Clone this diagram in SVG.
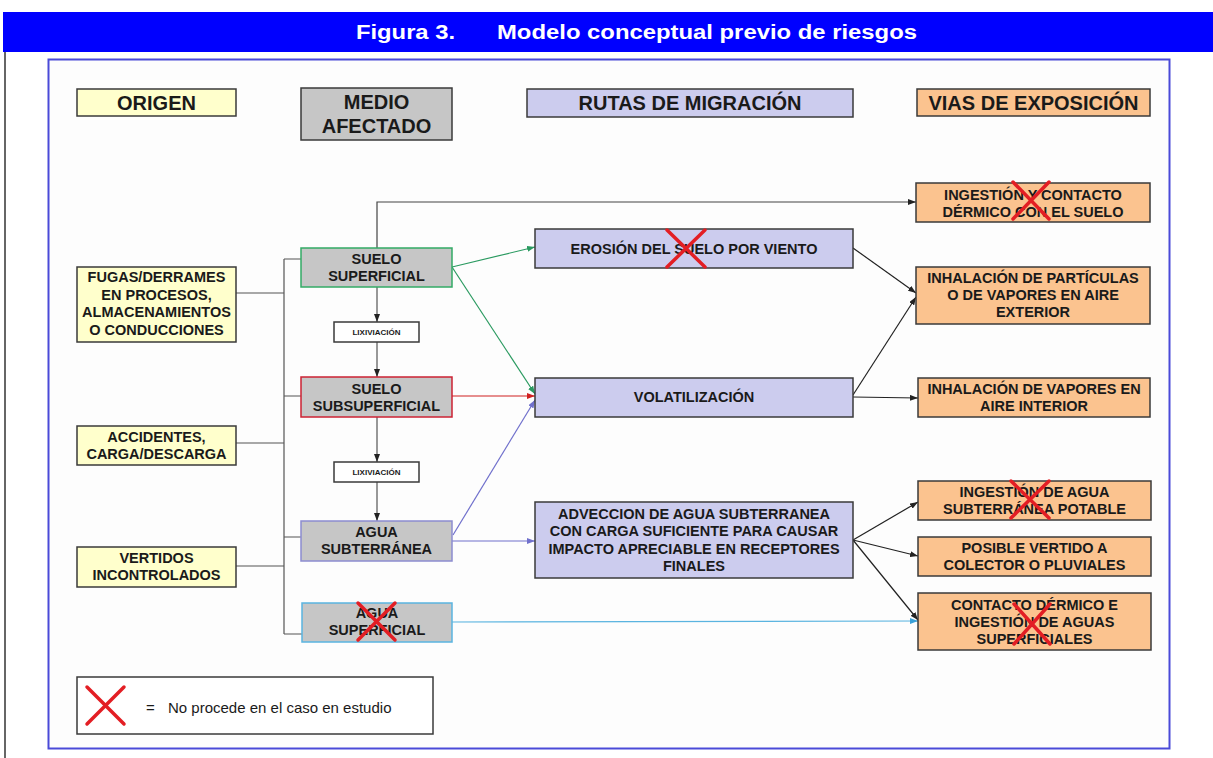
<svg xmlns="http://www.w3.org/2000/svg" width="1213" height="758" viewBox="0 0 1213 758">
<defs>
<style>
.t{font-family:"Liberation Sans",Arial,sans-serif;font-weight:bold;font-size:14.5px;fill:#1a1a1a;text-anchor:middle}
.h{font-family:"Liberation Sans",Arial,sans-serif;font-weight:bold;font-size:20px;fill:#1a1a1a;text-anchor:middle}
.lx{font-family:"Liberation Sans",Arial,sans-serif;font-weight:bold;font-size:8px;fill:#1a1a1a;text-anchor:middle}
.yel{fill:#ffffcc;stroke:#3a3a3a;stroke-width:1.5}
.gry{fill:#c6c6c6;stroke:#3a3a3a;stroke-width:1.5}
.lav{fill:#ccccee;stroke:#3a3a3a;stroke-width:1.5}
.pch{fill:#fbc38f;stroke:#3a3a3a;stroke-width:1.5}
.wht{fill:#ffffff;stroke:#3a3a3a;stroke-width:1.5}
.x{stroke:#e31e24;stroke-width:3.5;fill:none;stroke-linecap:round}
.c{fill:none;stroke-width:1.2}
</style>
<marker id="ak" markerUnits="userSpaceOnUse" markerWidth="8" markerHeight="6" refX="8" refY="3" orient="auto"><path d="M0,0 L8,3 L0,6 z" fill="#222"/></marker>
<marker id="ag" markerUnits="userSpaceOnUse" markerWidth="8" markerHeight="6" refX="8" refY="3" orient="auto"><path d="M0,0 L8,3 L0,6 z" fill="#2a9a60"/></marker>
<marker id="ar" markerUnits="userSpaceOnUse" markerWidth="8" markerHeight="6" refX="8" refY="3" orient="auto"><path d="M0,0 L8,3 L0,6 z" fill="#d02020"/></marker>
<marker id="ap" markerUnits="userSpaceOnUse" markerWidth="8" markerHeight="6" refX="8" refY="3" orient="auto"><path d="M0,0 L8,3 L0,6 z" fill="#7070cc"/></marker>
<marker id="ab" markerUnits="userSpaceOnUse" markerWidth="8" markerHeight="6" refX="8" refY="3" orient="auto"><path d="M0,0 L8,3 L0,6 z" fill="#3aa0d8"/></marker>
</defs>
<rect width="1213" height="758" fill="#ffffff"/>
<rect x="3" y="12" width="1210" height="40" fill="#0000ff"/>
<text x="356" y="39" textLength="99" lengthAdjust="spacingAndGlyphs" style="font-family:'Liberation Sans',Arial,sans-serif;font-weight:bold;font-size:20px;fill:#ffffff">Figura 3.</text>
<text x="497" y="39" textLength="420" lengthAdjust="spacingAndGlyphs" style="font-family:'Liberation Sans',Arial,sans-serif;font-weight:bold;font-size:20px;fill:#ffffff">Modelo conceptual previo de riesgos</text>
<line x1="5" y1="52" x2="5" y2="758" stroke="#333" stroke-width="1.5"/>
<rect x="48.5" y="59.5" width="1121" height="689" fill="#fdfdfd" stroke="#4a4ad8" stroke-width="2"/>

<g id="connectors">
<path class="c" stroke="#555" d="M284,259 V634 M284,259 H301 M284,396 H301 M284,537 H301 M284,634 H302 M236,293 H284 M236,443 H284 M236,566 H284"/>
<path class="c" stroke="#444" d="M377,248 V202 H916" marker-end="url(#ak)"/>
<path class="c" stroke="#555" d="M377,287 V322" marker-end="url(#ak)"/>
<path class="c" stroke="#555" d="M377,342 V377" marker-end="url(#ak)"/>
<path class="c" stroke="#555" d="M377,417 V462" marker-end="url(#ak)"/>
<path class="c" stroke="#555" d="M377,482 V521" marker-end="url(#ak)"/>
<path class="c" stroke="#2a9a60" d="M452,267 L535,247" marker-end="url(#ag)"/>
<path class="c" stroke="#2a9a60" d="M452,267 L535,394" marker-end="url(#ag)"/>
<path class="c" stroke="#d02020" d="M452,396 L535,396" marker-end="url(#ar)"/>
<path class="c" stroke="#7070cc" d="M453,535 L535,400" marker-end="url(#ap)"/>
<path class="c" stroke="#7070cc" d="M452,541 L535,541" marker-end="url(#ap)"/>
<path class="c" stroke="#5ab4e0" stroke-width="1.6" d="M452,622 L918,621" marker-end="url(#ab)"/>
<path class="c" stroke="#222" d="M853,248 L916,293" marker-end="url(#ak)"/>
<path class="c" stroke="#222" d="M853,395 L916,297" marker-end="url(#ak)"/>
<path class="c" stroke="#222" d="M853,397 L918,398" marker-end="url(#ak)"/>
<path class="c" stroke="#222" d="M853,540 L918,502" marker-end="url(#ak)"/>
<path class="c" stroke="#222" d="M853,540 L918,556" marker-end="url(#ak)"/>
<path class="c" stroke="#222" d="M853,540 L918,620" marker-end="url(#ak)"/>
</g>

<g id="h-origen"><rect class="yel" x="77" y="89" width="159" height="27"/><text class="h" x="156.5" y="109.5">ORIGEN</text></g>
<g id="h-medio"><rect class="gry" x="301" y="88" width="151" height="52"/><text class="h" x="376.5" y="109">MEDIO</text><text class="h" x="376.5" y="133">AFECTADO</text></g>
<g id="h-rutas"><rect class="lav" x="527" y="89" width="326" height="28"/><text class="h" x="690" y="110">RUTAS DE MIGRACIÓN</text></g>
<g id="h-vias"><rect class="pch" x="917" y="89" width="233" height="27"/><text class="h" x="1033.5" y="109.5">VIAS DE EXPOSICIÓN</text></g>

<g id="o-fugas"><rect class="yel" x="77" y="267" width="159" height="75"/><text class="t" x="156.5" y="282">FUGAS/DERRAMES</text><text class="t" x="156.5" y="299.5">EN PROCESOS,</text><text class="t" x="156.5" y="317">ALMACENAMIENTOS</text><text class="t" x="156.5" y="334.5">O CONDUCCIONES</text></g>
<g id="o-accidentes"><rect class="yel" x="77" y="426" width="159" height="39"/><text class="t" x="156.5" y="441.5">ACCIDENTES,</text><text class="t" x="156.5" y="459">CARGA/DESCARGA</text></g>
<g id="o-vertidos"><rect class="yel" x="77" y="547" width="159" height="40"/><text class="t" x="156.5" y="562.5">VERTIDOS</text><text class="t" x="156.5" y="580">INCONTROLADOS</text></g>

<g id="m-suelo-sup"><rect class="gry" x="301" y="248" width="151" height="39" style="stroke:#33aa66"/><text class="t" x="376.5" y="264">SUELO</text><text class="t" x="376.5" y="281">SUPERFICIAL</text></g>
<g id="lix1"><rect class="wht" x="334" y="322" width="85" height="20"/><text class="lx" x="376.5" y="335">LIXIVIACIÓN</text></g>
<g id="m-suelo-subsup"><rect class="gry" x="301" y="377" width="151" height="40" style="stroke:#cc2233"/><text class="t" x="376.5" y="393.5">SUELO</text><text class="t" x="376.5" y="411">SUBSUPERFICIAL</text></g>
<g id="lix2"><rect class="wht" x="334" y="462" width="85" height="20"/><text class="lx" x="376.5" y="475">LIXIVIACIÓN</text></g>
<g id="m-agua-subt"><rect class="gry" x="301" y="521" width="151" height="40" style="stroke:#8c8cd0"/><text class="t" x="376.5" y="536.5">AGUA</text><text class="t" x="376.5" y="554">SUBTERRÁNEA</text></g>
<g id="m-agua-sup"><rect class="gry" x="302" y="603" width="150" height="39" style="stroke:#5ab4e0"/><text class="t" x="377" y="618">AGUA</text><text class="t" x="377" y="635">SUPERFICIAL</text><path class="x" d="M358,603 L395,640 M395,603 L358,640"/></g>

<g id="r-erosion"><rect class="lav" x="535" y="229" width="318" height="39"/><text class="t" x="694" y="253.5">EROSIÓN DEL SUELO POR VIENTO</text><path class="x" d="M667,230 L705,267 M705,230 L667,267"/></g>
<g id="r-volat"><rect class="lav" x="535" y="378" width="318" height="39"/><text class="t" x="694" y="402">VOLATILIZACIÓN</text></g>
<g id="r-advec"><rect class="lav" x="535" y="502" width="318" height="76"/><text class="t" x="694" y="518.5">ADVECCION DE AGUA SUBTERRANEA</text><text class="t" x="694" y="536">CON CARGA SUFICIENTE PARA CAUSAR</text><text class="t" x="694" y="553.5">IMPACTO APRECIABLE EN RECEPTORES</text><text class="t" x="694" y="571">FINALES</text></g>

<g id="e-ingestion-suelo"><rect class="pch" x="916" y="183" width="234" height="39"/><text class="t" x="1033" y="199.5">INGESTIÓN Y CONTACTO</text><text class="t" x="1033" y="217">DÉRMICO CON EL SUELO</text><path class="x" d="M1013,182 L1049,219 M1049,182 L1013,219"/></g>
<g id="e-inhal-part"><rect class="pch" x="916" y="267" width="234" height="57"/><text class="t" x="1033" y="283">INHALACIÓN DE PARTÍCULAS</text><text class="t" x="1033" y="300">O DE VAPORES EN AIRE</text><text class="t" x="1033" y="317">EXTERIOR</text></g>
<g id="e-inhal-int"><rect class="pch" x="918" y="378" width="232" height="39"/><text class="t" x="1034" y="393.5">INHALACIÓN DE VAPORES EN</text><text class="t" x="1034" y="411">AIRE INTERIOR</text></g>
<g id="e-ingestion-agua"><rect class="pch" x="918" y="481" width="233" height="39"/><text class="t" x="1034.5" y="497">INGESTIÓN DE AGUA</text><text class="t" x="1034.5" y="514">SUBTERRÁNEA POTABLE</text><path class="x" d="M1011,481 L1049,518 M1049,481 L1011,518"/></g>
<g id="e-vertido"><rect class="pch" x="918" y="537" width="233" height="39"/><text class="t" x="1034.5" y="553">POSIBLE VERTIDO A</text><text class="t" x="1034.5" y="570">COLECTOR O PLUVIALES</text></g>
<g id="e-contacto"><rect class="pch" x="918" y="593" width="233" height="57"/><text class="t" x="1034.5" y="609.5">CONTACTO DÉRMICO E</text><text class="t" x="1034.5" y="626.5">INGESTIÓN DE AGUAS</text><text class="t" x="1034.5" y="643.5">SUPERFICIALES</text><path class="x" d="M1014,604 L1050,644 M1050,604 L1014,644"/></g>

<g id="legend"><rect class="wht" x="77" y="677" width="356" height="57"/><path class="x" d="M87,687 L124,724 M124,687 L87,724"/><text x="146" y="713" style="font-family:'Liberation Sans',Arial,sans-serif;font-size:15px;fill:#1a1a1a">=</text><text x="168" y="713" style="font-family:'Liberation Sans',Arial,sans-serif;font-size:15px;fill:#1a1a1a">No procede en el caso en estudio</text></g>
</svg>
